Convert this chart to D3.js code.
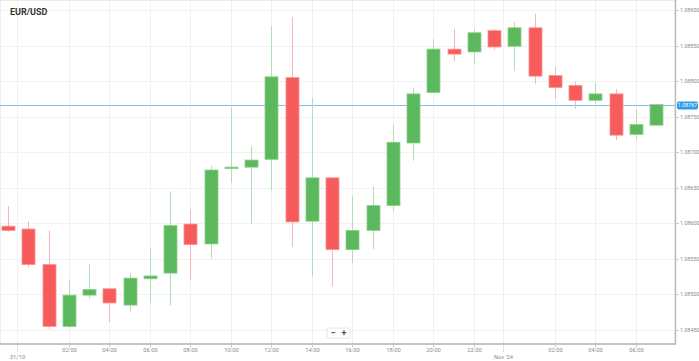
<!DOCTYPE html>
<html>
<head>
<meta charset="utf-8">
<script src="https://cdn.jsdelivr.net/npm/d3@7"></script>
<style>
  body { margin: 0; background: #fff; }
  svg { display: block; font-family: Roboto, "Noto Sans", sans-serif; }
</style>
</head>
<body>
<div id="chart"></div>
<script>
// hourly candles, first one at 30/10 23:00
var startTime = new Date(2024, 9, 30, 23, 0);
var opens  = [1.08596, 1.08592, 1.08542, 1.08455, 1.08499, 1.08508, 1.08485, 1.08522, 1.08530, 1.08599, 1.08571,
              1.08677, 1.08679, 1.08690, 1.08805, 1.08603, 1.08664, 1.08563, 1.08590, 1.08625, 1.08713, 1.08784,
              1.08845, 1.08841, 1.08871, 1.08849, 1.08875, 1.08808, 1.08794, 1.08773, 1.08782, 1.08725, 1.08738];
var highs  = [1.08624, 1.08603, 1.08590, 1.08521, 1.08543, 1.08508, 1.08530, 1.08566, 1.08645, 1.08619, 1.08681,
              1.08763, 1.08708, 1.08878, 1.08890, 1.08777, 1.08664, 1.08639, 1.08652, 1.08739, 1.08791, 1.08859,
              1.08873, 1.08873, 1.08873, 1.08883, 1.08895, 1.08820, 1.08799, 1.08798, 1.08789, 1.08760, 1.08767];
var lows   = [1.08588, 1.08538, 1.08451, 1.08453, 1.08494, 1.08461, 1.08476, 1.08488, 1.08485, 1.08520, 1.08551,
              1.08657, 1.08599, 1.08646, 1.08567, 1.08525, 1.08511, 1.08544, 1.08564, 1.08616, 1.08688, 1.08782,
              1.08828, 1.08824, 1.08844, 1.08814, 1.08796, 1.08775, 1.08761, 1.08768, 1.08717, 1.08717, 1.08738];
var closes = [1.08590, 1.08542, 1.08455, 1.08499, 1.08507, 1.08488, 1.08523, 1.08526, 1.08597, 1.08570, 1.08675,
              1.08679, 1.08689, 1.08806, 1.08602, 1.08664, 1.08563, 1.08590, 1.08625, 1.08714, 1.08782, 1.08845,
              1.08838, 1.08868, 1.08848, 1.08875, 1.08807, 1.08791, 1.08773, 1.08782, 1.08724, 1.08739, 1.08767];

var priceTicks = [1.08450, 1.08500, 1.08550, 1.08600, 1.08650, 1.08700, 1.08750, 1.08800, 1.08850, 1.08900];
var currentPrice = 1.08767;
var timeTicks = ["02:00", "04:00", "06:00", "08:00", "10:00", "12:00", "14:00", "16:00", "18:00", "20:00", "22:00",
                 "02:00", "04:00", "06:00"];
var timeTickDates = [new Date(2024, 9, 31, 2), new Date(2024, 9, 31, 4), new Date(2024, 9, 31, 6), new Date(2024, 9, 31, 8),
                     new Date(2024, 9, 31, 10), new Date(2024, 9, 31, 12), new Date(2024, 9, 31, 14), new Date(2024, 9, 31, 16),
                     new Date(2024, 9, 31, 18), new Date(2024, 9, 31, 20), new Date(2024, 9, 31, 22),
                     new Date(2024, 10, 1, 2), new Date(2024, 10, 1, 4), new Date(2024, 10, 1, 6)];
var dateTicks = ["31/10", "Nov '24"];
var dateTickDates = [new Date(2024, 9, 30, 23, 27), new Date(2024, 9, 31, 23, 27)];

var candles = opens.map(function(o, i) {
  return { t: d3.timeHour.offset(startTime, i), o: o, h: highs[i], l: lows[i], c: closes[i] };
});

var width = 699, height = 361;
var plotRight = 675, plotBottom = 344;
var tickFont = 5.4;

var svg = d3.select("#chart").append("svg")
  .attr("width", width)
  .attr("height", height);

var x = d3.scaleTime()
  .domain([startTime, d3.timeHour.offset(startTime, candles.length - 1)])
  .range([8, 656]);
var y = d3.scaleLinear()
  .domain([1.08450, 1.08900])
  .range([330, 10]);

var step = x(d3.timeHour.offset(startTime, 1)) - x(startTime);
var bodyW = Math.round(step * 0.64);

// grid
svg.append("g").selectAll("line.hg")
  .data(priceTicks).enter().append("line")
  .attr("x1", 0).attr("x2", plotRight)
  .attr("y1", function(d) { return Math.round(y(d)) + 0.5; })
  .attr("y2", function(d) { return Math.round(y(d)) + 0.5; })
  .attr("stroke", "#f1f1f1");
svg.append("g").selectAll("line.vg")
  .data(timeTickDates.concat(dateTickDates)).enter().append("line")
  .attr("x1", function(d) { return Math.round(x(d)) + 0.5; })
  .attr("x2", function(d) { return Math.round(x(d)) + 0.5; })
  .attr("y1", 0).attr("y2", plotBottom)
  .attr("stroke", "#f1f1f1");

// frame
svg.append("rect")
  .attr("x", 0.5).attr("y", 0.5)
  .attr("width", plotRight - 0.5).attr("height", plotBottom - 0.5)
  .attr("fill", "none").attr("stroke", "#ececec");

// current price line
svg.append("line")
  .attr("x1", 0).attr("x2", plotRight)
  .attr("y1", Math.round(y(currentPrice)) + 0.5)
  .attr("y2", Math.round(y(currentPrice)) + 0.5)
  .attr("stroke", "#7fc0ee");

// candles
var g = svg.append("g").selectAll("g.candle")
  .data(candles).enter().append("g");

g.append("line")
  .attr("x1", function(d) { return Math.round(x(d.t)) + 0.5; })
  .attr("x2", function(d) { return Math.round(x(d.t)) + 0.5; })
  .attr("y1", function(d) { return y(d.h); })
  .attr("y2", function(d) { return y(d.l); })
  .attr("stroke", function(d) { return d.c >= d.o ? "#b3deb3" : "#f9b4b4"; });

g.append("rect")
  .attr("x", function(d) { return Math.round(x(d.t)) - bodyW / 2 + 0.5; })
  .attr("width", bodyW)
  .attr("y", function(d) { return y(Math.max(d.o, d.c)); })
  .attr("height", function(d) { return Math.max(1.5, Math.abs(y(d.o) - y(d.c))); })
  .attr("fill", function(d) { return d.c >= d.o ? "#5cb85c" : "#f75b5b"; })
  .attr("stroke", function(d) { return d.c >= d.o ? "#8fd08f" : "#fb9595"; })
  .attr("stroke-width", 0.8);

// right axis
svg.append("line")
  .attr("x1", plotRight + 0.5).attr("x2", plotRight + 0.5)
  .attr("y1", 0).attr("y2", plotBottom + 1)
  .attr("stroke", "#bdbdbd").attr("stroke-width", 1.5);
var ya = svg.append("g").selectAll("g.yt")
  .data(priceTicks).enter().append("g")
  .attr("transform", function(d) { return "translate(0," + (Math.round(y(d)) + 0.5) + ")"; });
ya.append("line")
  .attr("x1", plotRight + 1).attr("x2", plotRight + 4)
  .attr("stroke", "#c8c8c8");
ya.append("text")
  .attr("x", plotRight + 5)
  .attr("dy", "0.35em")
  .attr("font-size", tickFont)
  .attr("fill", "#8a8a8a")
  .text(function(d) { return d.toFixed(5); });

// current price tag
var py = Math.round(y(currentPrice)) + 0.5;
svg.append("rect")
  .attr("x", plotRight + 2).attr("y", py - 4)
  .attr("width", 21).attr("height", 8).attr("rx", 2)
  .attr("fill", "#2c9be8");
svg.append("text")
  .attr("x", plotRight + 12.5).attr("y", py)
  .attr("dy", "0.35em")
  .attr("text-anchor", "middle")
  .attr("font-size", tickFont)
  .attr("fill", "#fff")
  .text(currentPrice.toFixed(5));

// bottom axis
svg.append("line")
  .attr("x1", 0).attr("x2", plotRight + 1)
  .attr("y1", plotBottom).attr("y2", plotBottom)
  .attr("stroke", "#c4c4c4").attr("stroke-width", 2);
var xa = svg.append("g").selectAll("g.xt")
  .data(timeTickDates).enter().append("g")
  .attr("transform", function(d) { return "translate(" + (Math.round(x(d)) + 0.5) + ",0)"; });
xa.append("line")
  .attr("y1", plotBottom + 1).attr("y2", plotBottom + 4)
  .attr("stroke", "#d0d0d0");
xa.append("text")
  .attr("y", 351.5)
  .attr("text-anchor", "middle")
  .attr("font-size", 5.8)
  .attr("fill", "#8a8a8a")
  .text(function(d, i) { return timeTicks[i]; });

var da = svg.append("g").selectAll("g.dt")
  .data(dateTickDates).enter().append("g")
  .attr("transform", function(d) { return "translate(" + (Math.round(x(d)) + 0.5) + ",0)"; });
da.append("line")
  .attr("y1", plotBottom + 1).attr("y2", plotBottom + 8)
  .attr("stroke", "#c8c8c8").attr("stroke-dasharray", "1,1");
da.append("text")
  .attr("y", 358.5)
  .attr("text-anchor", "middle")
  .attr("font-size", 5.8)
  .attr("fill", "#8a8a8a")
  .text(function(d, i) { return dateTicks[i]; });

// title
svg.append("text")
  .attr("x", 10).attr("y", 15)
  .attr("font-size", 9)
  .attr("font-weight", "bold")
  .attr("fill", "#333")
  .text("EUR/USD");

// zoom buttons
var zb = svg.append("g").attr("transform", "translate(327,328)");
zb.append("rect")
  .attr("width", 23).attr("height", 10).attr("rx", 1)
  .attr("fill", "#fff").attr("stroke", "#e6e6e6");
zb.append("text").attr("x", 6).attr("y", 8).attr("text-anchor", "middle")
  .attr("font-size", 9).attr("font-weight", "bold").attr("fill", "#555").text("\u2212");
zb.append("text").attr("x", 17).attr("y", 8).attr("text-anchor", "middle")
  .attr("font-size", 9).attr("font-weight", "bold").attr("fill", "#555").text("+");
</script>
</body>
</html>
